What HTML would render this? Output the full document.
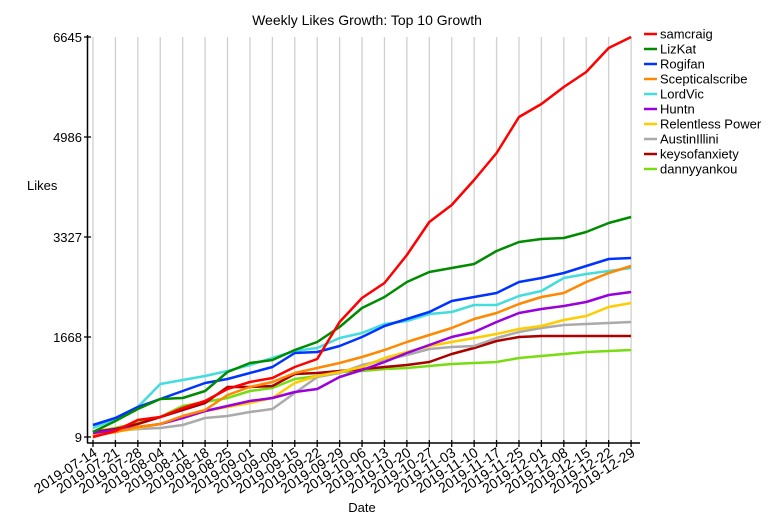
<!DOCTYPE html>
<html><head><meta charset="utf-8"><style>
body{margin:0;background:#fff}
svg{display:block;font-family:"Liberation Sans",sans-serif}
</style></head><body>
<svg width="775" height="525" viewBox="0 0 775 525" xmlns="http://www.w3.org/2000/svg">
<rect width="775" height="525" fill="#fff"/>
<text x="367" y="25" font-size="14" text-anchor="middle">Weekly Likes Growth: Top 10 Growth</text>
<g id="grid" stroke="#d0d0d0" stroke-width="1.3"></g>
<g id="series" fill="none" stroke-width="2.5" stroke-linejoin="round"></g>
<line x1="87.5" y1="35" x2="87.5" y2="443" stroke="#000" stroke-width="1.5"/>
<line x1="87" y1="443" x2="640" y2="443" stroke="#000" stroke-width="1.5"/>
<g stroke="#000" stroke-width="1.3">
<line x1="84" y1="37" x2="91" y2="37"/><line x1="84" y1="137" x2="91" y2="137"/><line x1="84" y1="237" x2="91" y2="237"/><line x1="84" y1="337" x2="91" y2="337"/><line x1="84" y1="437" x2="91" y2="437"/>
</g>
<g font-size="13" text-anchor="end">
<text x="82" y="42">6645</text><text x="82" y="142">4986</text><text x="82" y="242">3327</text><text x="82" y="342">1668</text><text x="82" y="442">9</text>
</g>
<text x="27" y="190" font-size="13">Likes</text>
<text x="362" y="512" font-size="13" text-anchor="middle">Date</text>
<g id="xt" stroke="#000" stroke-width="1.3"></g>
<g id="xl" font-size="14" text-anchor="end"></g>
<g id="leg" font-size="13"></g>
</svg>
<script>
var ns="http://www.w3.org/2000/svg";
function el(p,t,a,txt){var e=document.createElementNS(ns,t);for(var k in a)e.setAttribute(k,a[k]);if(txt)e.textContent=txt;document.getElementById(p).appendChild(e);}
var dates=["07-14","07-21","07-28","08-04","08-11","08-18","08-25","09-01","09-08","09-15","09-22","09-29","10-06","10-13","10-20","10-27","11-03","11-10","11-17","11-25","12-01","12-08","12-15","12-22","12-29"];
function X(i){return 93+i*22.42;}
for(var i=0;i<25;i++){var x=X(i);
el("grid","line",{x1:x,y1:37,x2:x,y2:443});
el("xt","line",{x1:x,y1:440,x2:x,y2:447});
el("xl","text",{transform:"translate("+(x+5)+",455) rotate(-33)"},"2019-"+dates[i]);}
var S=[
["samcraig","#ff0000",[437,431,420,417,408,401,389,382,378,367,359,322,298,283,255,222,205,180,153,117,104,87,72,48,37]],
["LizKat","#008c00",[432,421,409,399,398,391,372,363,360,350,342,327,308,297,282,272,268,264,251,242,239,238,232,223,217]],
["Rogifan","#0033ff",[425,418,407,399,391,383,379,373,367,353,352,346,337,326,319,312,301,297,293,282,278,273,266,259,258]],
["Scepticalscribe","#ff8800",[436,432,427,424,416,410,395,387,382,373,368,363,357,350,342,335,328,319,313,304,297,293,282,273,266]],
["LordVic","#44dddd",[428,419,407,384,380,376,371,365,358,351,348,338,333,324,321,314,312,305,305,296,291,278,274,271,268]],
["Huntn","#9900dd",[433,430,427,424,418,411,406,401,398,392,389,377,370,362,353,345,337,332,322,313,309,306,302,295,292]],
["Relentless Power","#ffcc00",[435,432,428,424,417,411,407,403,398,383,376,372,367,358,352,346,342,338,334,329,326,320,316,307,303]],
["AustinIllini","#aaaaaa",[435,431,429,428,425,418,416,412,409,393,377,373,365,360,355,349,347,346,338,332,328,325,324,323,322]],
["keysofanxiety","#aa0000",[432,429,424,417,410,403,387,387,386,374,373,371,369,367,365,362,354,348,341,337,336,336,336,336,336]],
["dannyyankou","#77dd11",[432,428,423,417,406,402,398,391,388,379,376,372,371,369,368,366,364,363,362,358,356,354,352,351,350]]];
for(var s=S.length-1;s>=0;s--){var p=S[s][2].map(function(y,i){return X(i).toFixed(1)+","+y;}).join(" ");
el("series","polyline",{points:p,stroke:S[s][1]});}
S.forEach(function(s,k){var y=34+k*15;
el("leg","line",{x1:644,y1:y,x2:657,y2:y,stroke:s[1],"stroke-width":2.5});
el("leg","text",{x:660,y:y+4.5},s[0]);});
</script>
</body></html>
